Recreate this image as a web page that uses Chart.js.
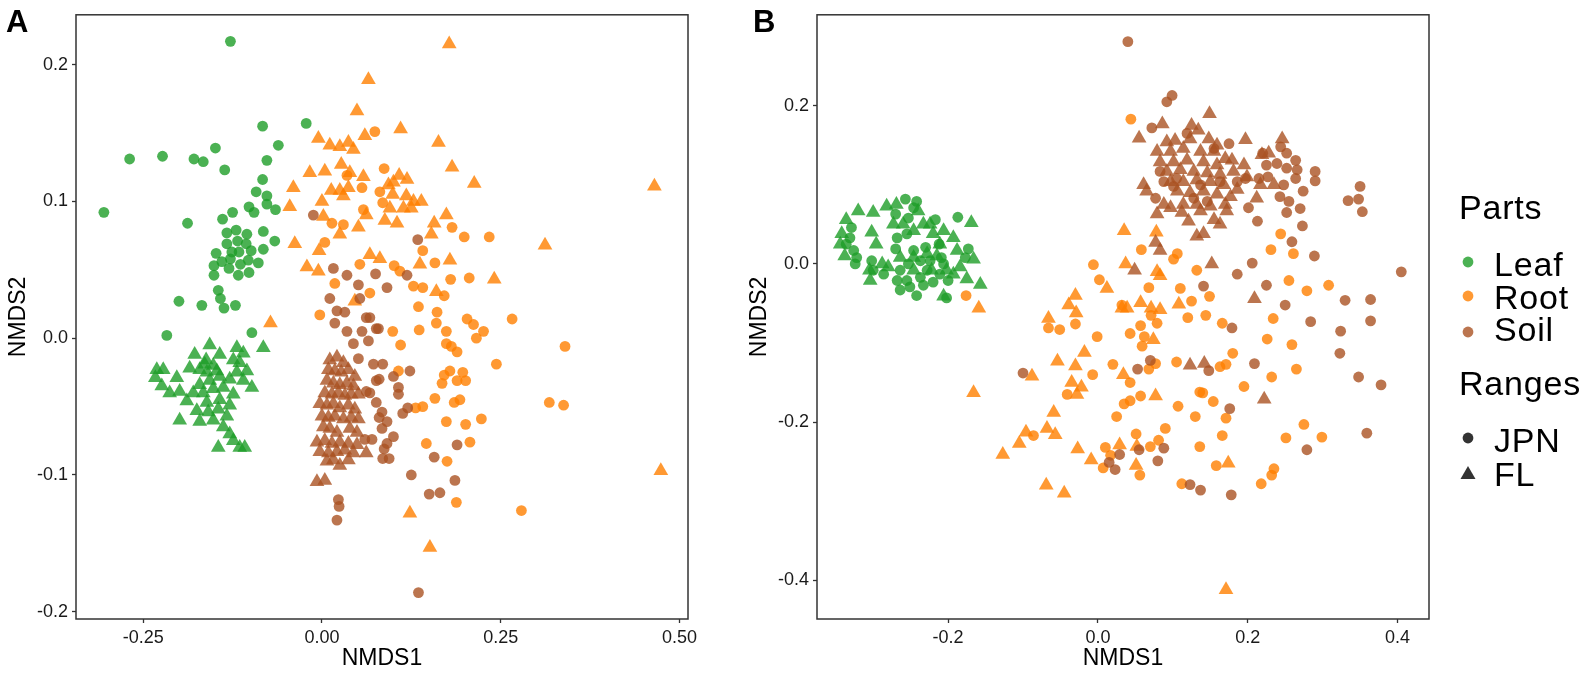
<!DOCTYPE html>
<html>
<head>
<meta charset="utf-8">
<title>NMDS ordination</title>
<script src="https://cdn.jsdelivr.net/npm/chart.js@4.4.1/dist/chart.umd.min.js"></script>
<style>
  html, body { margin: 0; padding: 0; background: #fff; }
  body { width: 1595px; height: 677px; position: relative; overflow: hidden; font-family: "Liberation Sans", Arial, sans-serif; }
  .panel { position: absolute; top: 0; width: 720px; height: 677px; }
  #panelA { left: 0; }
  #panelB { left: 741px; }
  .tag { position: absolute; top: 6px; font-size: 31px; font-weight: bold; line-height: 31px; color: #000; }
  #legend { position: absolute; left: 1440px; top: 0; }
  #legend text { font-family: "Liberation Sans", Arial, sans-serif; font-size: 34px; letter-spacing: 0.8px; fill: #000; }
</style>
</head>
<body>
<div class="panel" id="panelA"><canvas id="chartA" width="720" height="677"></canvas></div>
<div class="panel" id="panelB"><canvas id="chartB" width="720" height="677"></canvas></div>
<div class="tag" style="left:6px">A</div>
<div class="tag" style="left:753px">B</div>

<svg id="legend" width="155" height="677">
  <text x="19" y="219">Parts</text>
  <circle cx="28" cy="262" r="5.4" fill="rgba(30,158,40,0.8)"></circle>
  <text x="54" y="276">Leaf</text>
  <circle cx="28" cy="296" r="5.4" fill="rgba(255,128,0,0.8)"></circle>
  <text x="54" y="309">Root</text>
  <circle cx="28" cy="332" r="5.4" fill="rgba(170,82,35,0.8)"></circle>
  <text x="54" y="341">Soil</text>
  <text x="19" y="395">Ranges</text>
  <circle cx="28" cy="438" r="5.4" fill="rgba(0,0,0,0.8)"></circle>
  <text x="54" y="452">JPN</text>
  <polygon points="20.5,479 35.5,479 28,466" fill="rgba(0,0,0,0.8)"></polygon>
  <text x="54" y="486">FL</text>
</svg>

<script>
// --- Panel A : NMDS1 / NMDS2 scores ---
const aLeafJPN = [[-0.128,0.217],[-0.305,0.092],[-0.269,0.131],[-0.223,0.133],[-0.179,0.131],[-0.166,0.129],[-0.149,0.139],[-0.136,0.123],[-0.083,0.155],[-0.022,0.157],[-0.061,0.141],[-0.077,0.130],[-0.083,0.116],[-0.092,0.107],[-0.077,0.104],[-0.077,0.098],[-0.065,0.094],[-0.102,0.096],[-0.095,0.092],[-0.125,0.092],[-0.139,0.087],[-0.188,0.084],[-0.082,0.078],[-0.066,0.071],[-0.082,0.065],[-0.133,0.077],[-0.120,0.079],[-0.105,0.076],[-0.133,0.069],[-0.118,0.071],[-0.106,0.069],[-0.126,0.063],[-0.116,0.063],[-0.099,0.064],[-0.148,0.062],[-0.140,0.056],[-0.128,0.058],[-0.114,0.054],[-0.103,0.057],[-0.089,0.055],[-0.151,0.053],[-0.130,0.051],[-0.117,0.046],[-0.102,0.048],[-0.151,0.046],[-0.145,0.035],[-0.142,0.029],[-0.137,0.022],[-0.121,0.024],[-0.168,0.024],[-0.200,0.027],[-0.217,0.002],[-0.098,0.004]];
const aLeafFL = [[-0.082,-0.007],[-0.157,-0.005],[-0.178,-0.012],[-0.231,-0.023],[-0.222,-0.023],[-0.233,-0.029],[-0.224,-0.035],[-0.203,-0.029],[-0.213,-0.040],[-0.199,-0.039],[-0.189,-0.046],[-0.185,-0.022],[-0.171,-0.023],[-0.162,-0.016],[-0.152,-0.020],[-0.143,-0.012],[-0.119,-0.007],[-0.110,-0.011],[-0.124,-0.016],[-0.115,-0.018],[-0.105,-0.024],[-0.119,-0.025],[-0.129,-0.030],[-0.110,-0.031],[-0.098,-0.036],[-0.143,-0.028],[-0.157,-0.031],[-0.171,-0.034],[-0.180,-0.040],[-0.166,-0.040],[-0.152,-0.037],[-0.138,-0.036],[-0.124,-0.041],[-0.143,-0.045],[-0.161,-0.047],[-0.175,-0.053],[-0.159,-0.054],[-0.145,-0.052],[-0.129,-0.049],[-0.133,-0.057],[-0.152,-0.060],[-0.171,-0.061],[-0.199,-0.060],[-0.138,-0.065],[-0.129,-0.070],[-0.124,-0.075],[-0.145,-0.080],[-0.115,-0.080],[-0.108,-0.080],[-0.161,-0.025],[-0.147,-0.024],[-0.164,-0.019]];
const aRootJPN = [[0.074,0.151],[0.035,0.119],[0.056,0.110],[0.058,0.094],[0.014,0.084],[0.030,0.083],[0.004,0.070],[0.053,0.054],[0.018,0.040],[0.067,0.033],[-0.003,0.017],[0.087,0.124],[0.081,0.107],[0.085,0.099],[0.182,0.081],[0.199,0.074],[0.234,0.074],[0.141,0.064],[0.158,0.055],[0.101,0.053],[0.109,0.049],[0.180,0.043],[0.206,0.044],[0.128,0.038],[0.141,0.037],[0.171,0.031],[0.135,0.023],[0.161,0.019],[0.160,0.011],[0.203,0.014],[0.212,0.010],[0.226,0.005],[0.266,0.014],[0.174,0.005],[0.136,0.006],[0.099,0.005],[0.216,0.000],[0.340,-0.006],[0.110,-0.005],[0.174,-0.004],[0.181,-0.006],[0.189,-0.010],[0.244,-0.019],[0.107,-0.024],[0.179,-0.024],[0.171,-0.027],[0.197,-0.025],[0.168,-0.033],[0.189,-0.031],[0.201,-0.031],[0.158,-0.044],[0.185,-0.047],[0.193,-0.045],[0.131,-0.051],[0.141,-0.050],[0.318,-0.047],[0.338,-0.049],[0.174,-0.061],[0.201,-0.063],[0.223,-0.059],[0.146,-0.077],[0.207,-0.076],[0.175,-0.090],[0.188,-0.120],[0.279,-0.126]];
const aRootFL = [[0.065,0.189],[0.049,0.166],[-0.005,0.146],[0.011,0.141],[0.025,0.140],[0.037,0.143],[0.044,0.138],[0.060,0.148],[-0.017,0.121],[0.004,0.122],[0.027,0.127],[0.039,0.121],[0.058,0.118],[-0.040,0.110],[-0.045,0.096],[0.000,0.100],[0.013,0.108],[0.025,0.108],[0.037,0.110],[0.030,0.104],[0.062,0.090],[0.002,0.089],[0.025,0.076],[0.051,0.081],[-0.038,0.069],[-0.004,0.064],[0.067,0.061],[-0.021,0.052],[-0.005,0.049],[0.046,0.027],[-0.072,0.011],[0.178,0.215],[0.110,0.153],[0.163,0.143],[0.182,0.125],[0.213,0.113],[0.465,0.111],[0.108,0.119],[0.119,0.116],[0.100,0.114],[0.093,0.112],[0.099,0.105],[0.118,0.104],[0.128,0.100],[0.139,0.100],[0.095,0.095],[0.114,0.095],[0.125,0.095],[0.088,0.086],[0.105,0.084],[0.174,0.090],[0.157,0.084],[0.153,0.076],[0.312,0.068],[0.081,0.058],[0.137,0.054],[0.179,0.057],[0.241,0.043],[0.160,0.034],[0.474,-0.097],[0.123,-0.128],[0.151,-0.153]];
const aSoilJPN = [[-0.012,0.090],[0.016,0.051],[0.035,0.046],[0.051,0.039],[0.011,0.029],[0.053,0.029],[0.021,0.020],[0.032,0.019],[0.062,0.015],[0.018,0.011],[0.035,0.005],[0.056,0.005],[0.076,0.007],[0.134,0.072],[0.075,0.047],[0.119,0.046],[0.091,0.037],[0.067,0.015],[0.079,0.007],[0.044,-0.004],[0.065,-0.002],[0.051,-0.015],[0.072,-0.019],[0.062,-0.039],[0.076,-0.047],[0.060,-0.074],[0.070,-0.074],[0.023,-0.118],[0.024,-0.123],[0.021,-0.133],[0.076,-0.031],[0.085,-0.019],[0.080,-0.030],[0.100,-0.028],[0.107,-0.036],[0.107,-0.041],[0.123,-0.024],[0.067,-0.040],[0.084,-0.054],[0.080,-0.058],[0.091,-0.061],[0.084,-0.066],[0.100,-0.072],[0.091,-0.077],[0.087,-0.081],[0.085,-0.088],[0.094,-0.088],[0.113,-0.055],[0.120,-0.051],[0.189,-0.078],[0.157,-0.087],[0.125,-0.100],[0.186,-0.104],[0.150,-0.114],[0.165,-0.113],[0.135,-0.186]];
const aSoilFL = [[0.011,-0.016],[0.021,-0.014],[0.030,-0.018],[0.009,-0.023],[0.018,-0.024],[0.027,-0.025],[0.037,-0.023],[0.046,-0.028],[0.007,-0.031],[0.016,-0.033],[0.025,-0.034],[0.035,-0.033],[0.044,-0.035],[0.004,-0.040],[0.014,-0.041],[0.023,-0.040],[0.032,-0.042],[0.041,-0.041],[0.051,-0.041],[-0.003,-0.048],[0.007,-0.049],[0.016,-0.048],[0.025,-0.051],[0.037,-0.049],[0.046,-0.052],[0.000,-0.057],[0.009,-0.058],[0.018,-0.057],[0.030,-0.059],[0.041,-0.058],[0.051,-0.059],[0.002,-0.065],[0.011,-0.066],[0.021,-0.069],[0.039,-0.066],[0.049,-0.069],[-0.007,-0.076],[0.004,-0.075],[0.014,-0.077],[0.025,-0.076],[0.037,-0.077],[0.049,-0.078],[-0.003,-0.083],[0.009,-0.084],[0.021,-0.083],[0.032,-0.082],[0.044,-0.084],[0.062,-0.084],[0.007,-0.090],[0.016,-0.089],[0.025,-0.093],[0.037,-0.089],[-0.007,-0.105],[0.004,-0.104]];

// --- Panel B ---
const bLeafJPN = [[-0.257,0.082],[-0.242,0.079],[-0.246,0.071],[-0.217,0.056],[-0.187,0.059],[-0.173,0.019],[-0.177,0.008],[-0.202,-0.043],[-0.242,-0.040],[-0.264,-0.033],[-0.268,-0.021],[-0.251,-0.029],[-0.233,-0.027],[-0.220,-0.023],[-0.264,-0.008],[-0.253,0.000],[-0.237,0.004],[-0.246,0.017],[-0.230,0.021],[-0.212,0.025],[-0.270,0.019],[-0.268,0.033],[-0.255,0.038],[-0.253,0.058],[-0.270,0.063],[-0.286,-0.013],[-0.302,0.004],[-0.300,-0.008],[-0.326,0.017],[-0.331,0.033],[-0.329,0.046],[-0.322,0.008],[-0.324,0.000],[-0.336,0.025],[-0.206,0.000],[-0.211,-0.013],[-0.200,-0.021],[-0.228,-0.008],[-0.237,-0.017],[-0.255,-0.021],[-0.209,0.008],[-0.224,0.004]];
const bLeafFL = [[-0.336,0.056],[-0.320,0.067],[-0.300,0.065],[-0.282,0.073],[-0.269,0.075],[-0.240,0.067],[-0.224,0.050],[-0.206,0.042],[-0.193,0.033],[-0.169,0.052],[-0.166,0.006],[-0.175,-0.019],[-0.157,-0.026],[-0.206,-0.041],[-0.302,0.040],[-0.296,0.025],[-0.305,-0.008],[-0.304,-0.021],[-0.288,0.000],[-0.280,-0.004],[-0.273,0.050],[-0.260,0.050],[-0.246,0.042],[-0.233,0.050],[-0.220,0.038],[-0.211,0.025],[-0.228,0.013],[-0.215,0.010],[-0.246,0.008],[-0.188,0.017],[-0.184,-0.004],[-0.193,-0.013],[-0.202,-0.008],[-0.222,-0.008],[-0.264,0.008],[-0.246,-0.008],[-0.344,0.025],[-0.342,0.038],[-0.338,0.010]];
const bRootJPN = [[-0.176,-0.040],[0.044,0.183],[0.244,0.038],[0.231,0.018],[0.261,0.013],[0.106,0.013],[0.101,0.006],[-0.006,-0.001],[0.058,0.018],[0.132,-0.008],[0.002,-0.020],[0.068,-0.030],[0.110,-0.031],[0.149,-0.041],[0.125,-0.047],[0.255,-0.021],[0.279,-0.034],[0.308,-0.027],[0.234,-0.069],[0.120,-0.068],[0.144,-0.065],[0.166,-0.075],[-0.030,-0.076],[0.071,-0.065],[0.057,-0.078],[0.032,-0.052],[-0.001,-0.092],[0.043,-0.088],[0.062,-0.092],[0.059,-0.104],[0.079,-0.075],[0.226,-0.095],[0.259,-0.102],[0.265,-0.133],[0.232,-0.143],[0.195,-0.155],[0.180,-0.113],[0.171,-0.127],[0.163,-0.130],[0.105,-0.124],[0.068,-0.133],[0.077,-0.126],[0.020,-0.127],[-0.007,-0.140],[0.043,-0.150],[0.057,-0.167],[0.043,-0.173],[0.035,-0.177],[0.025,-0.193],[0.107,-0.180],[0.130,-0.193],[0.154,-0.174],[0.136,-0.162],[0.140,-0.163],[0.171,-0.195],[0.090,-0.208],[0.051,-0.215],[0.081,-0.223],[0.070,-0.231],[0.010,-0.232],[0.017,-0.242],[0.007,-0.258],[0.056,-0.267],[0.136,-0.231],[0.166,-0.217],[0.158,-0.255],[0.112,-0.278],[0.218,-0.278],[0.232,-0.267],[0.235,-0.259],[0.251,-0.220],[0.275,-0.203],[0.299,-0.219],[-0.041,-0.165],[-0.066,-0.081],[-0.051,-0.083],[-0.086,-0.217]];
const bRootFL = [[-0.159,-0.056],[0.035,0.042],[0.078,0.040],[0.037,0.000],[0.079,-0.010],[0.083,-0.015],[0.012,-0.031],[-0.030,-0.040],[-0.039,-0.052],[-0.029,-0.062],[0.057,-0.049],[0.032,-0.056],[0.039,-0.056],[0.071,-0.056],[0.083,-0.058],[0.108,-0.051],[0.074,-0.096],[-0.018,-0.112],[-0.030,-0.129],[0.034,-0.140],[-0.035,-0.150],[-0.022,-0.156],[-0.028,-0.165],[0.077,-0.167],[-0.027,-0.234],[-0.009,-0.248],[0.029,-0.229],[0.052,-0.231],[0.051,-0.255],[0.174,-0.252],[-0.045,-0.290],[0.171,-0.412],[-0.166,-0.163],[-0.088,-0.142],[-0.054,-0.123],[-0.059,-0.188],[-0.096,-0.213],[-0.068,-0.208],[-0.057,-0.216],[-0.105,-0.227],[-0.127,-0.241],[-0.069,-0.280],[-0.066,-0.069]];
const bSoilJPN = [[0.040,0.281],[0.099,0.213],[0.092,0.205],[0.072,0.172],[0.175,0.152],[0.083,0.117],[0.077,0.083],[0.201,0.071],[0.213,0.054],[0.220,0.140],[0.244,0.148],[0.252,0.140],[0.264,0.131],[0.239,0.127],[0.225,0.125],[0.252,0.121],[0.266,0.119],[0.264,0.108],[0.290,0.117],[0.290,0.105],[0.227,0.110],[0.215,0.108],[0.248,0.100],[0.274,0.092],[0.243,0.085],[0.255,0.079],[0.270,0.070],[0.252,0.065],[0.273,0.048],[0.259,0.028],[0.350,0.098],[0.334,0.080],[0.348,0.082],[0.353,0.066],[0.289,0.010],[0.206,0.001],[0.186,-0.013],[0.141,-0.028],[0.225,-0.027],[0.250,-0.052],[0.330,-0.046],[0.364,-0.045],[0.364,-0.072],[0.284,-0.073],[0.324,-0.085],[0.179,-0.081],[0.197,0.108],[0.186,0.104],[0.088,0.104],[0.101,0.098],[0.119,0.165],[0.155,0.146],[0.105,0.108],[0.137,0.100],[0.128,0.083],[0.146,0.079],[0.163,0.104],[0.323,-0.113],[0.348,-0.143],[0.378,-0.153],[0.209,-0.126],[0.176,-0.183],[0.359,-0.214],[0.279,-0.235],[0.053,-0.133],[0.070,-0.122],[0.148,-0.135],[0.029,-0.241],[0.055,-0.235],[0.088,-0.233],[0.080,-0.249],[0.015,-0.251],[0.023,-0.260],[0.123,-0.279],[0.137,-0.286],[0.178,-0.292],[-0.100,-0.138],[0.405,-0.010]];
const bSoilFL = [[0.149,0.190],[0.086,0.177],[0.055,0.159],[0.125,0.175],[0.134,0.169],[0.197,0.157],[0.246,0.158],[0.092,0.154],[0.103,0.156],[0.123,0.158],[0.148,0.158],[0.159,0.150],[0.079,0.142],[0.097,0.142],[0.114,0.146],[0.137,0.142],[0.155,0.142],[0.170,0.133],[0.179,0.131],[0.195,0.125],[0.083,0.129],[0.101,0.129],[0.119,0.131],[0.141,0.129],[0.159,0.125],[0.092,0.117],[0.110,0.119],[0.128,0.117],[0.146,0.115],[0.163,0.113],[0.181,0.117],[0.199,0.110],[0.219,0.138],[0.228,0.140],[0.235,0.100],[0.217,0.100],[0.097,0.104],[0.114,0.104],[0.132,0.106],[0.150,0.104],[0.168,0.100],[0.186,0.094],[0.061,0.100],[0.065,0.092],[0.106,0.092],[0.123,0.090],[0.141,0.092],[0.159,0.088],[0.177,0.085],[0.212,0.083],[0.088,0.075],[0.097,0.071],[0.114,0.075],[0.132,0.075],[0.150,0.073],[0.170,0.075],[0.079,0.063],[0.112,0.065],[0.121,0.054],[0.137,0.067],[0.155,0.056],[0.163,0.050],[0.172,0.067],[0.132,0.035],[0.141,0.038],[0.077,0.027],[0.083,0.017],[0.049,-0.008],[0.152,0.000],[0.209,-0.044],[0.123,-0.128],[0.142,-0.126],[0.222,-0.171]];

// axis ranges and tick positions
const aXRange = [-0.344, 0.512];
const aYRange = [-0.2053, 0.2364];
const aXTicks = [-0.25, 0, 0.25, 0.5];
const aYTicks = [-0.2, -0.1, 0, 0.1, 0.2];
const bXRange = [-0.375, 0.442];
const bYRange = [-0.449, 0.315];
const bXTicks = [-0.2, 0, 0.2, 0.4];
const bYTicks = [-0.4, -0.2, 0, 0.2];

const partColors = { Leaf: 'rgba(30,158,40,0.8)', Root: 'rgba(255,128,0,0.8)', Soil: 'rgba(170,82,35,0.8)' };
const FONT = '"Liberation Sans", Arial, sans-serif';

// closed panel border like ggplot's box
const framePlugin = {
    id: 'frame',
    afterDraw(chart) {
        const { ctx, chartArea: a } = chart;
        ctx.save();
        ctx.strokeStyle = '#333';
        ctx.lineWidth = 1.5;
        ctx.strokeRect(a.left, a.top, a.right - a.left, a.bottom - a.top);
        ctx.restore();
    }
};

function series(part, range, pts) {
    const tri = range === 'FL';
    return {
        label: part + ' ' + range,
        data: pts.map(([x, y]) => ({ x, y })),
        pointStyle: tri ? 'triangle' : 'circle',
        pointRadius: tri ? 8.5 : 5.4,
        pointHoverRadius: tri ? 8.5 : 5.4,
        backgroundColor: partColors[part],
        borderWidth: 0
    };
}

function axis(range, ticks, digits, title, horizontal) {
    return {
        type: 'linear',
        min: range[0],
        max: range[1],
        afterBuildTicks: s => { s.ticks = ticks.map(v => ({ value: v })); },
        afterFit: s => { if (horizontal) s.height = 58; else s.width = 76; },
        ticks: {
            callback: v => Number(v).toFixed(digits),
            color: '#1a1a1a',
            font: { family: FONT, size: 18 },
            padding: 4,
            autoSkip: false,
            maxRotation: 0
        },
        grid: { display: true, drawOnChartArea: false, drawTicks: true, tickLength: 4, tickColor: '#333', tickWidth: 1.3 },
        border: { display: false },
        title: {
            display: true, text: title, color: '#000',
            font: { family: FONT, size: 23 },
            padding: horizontal ? { top: 0, bottom: 5 } : { top: 5, bottom: 0 }
        }
    };
}

function makeChart(id, sets, xr, yr, xt, yt, xDigits) {
    return new Chart(document.getElementById(id), {
        type: 'scatter',
        data: { datasets: sets },
        options: {
            responsive: false,
            animation: false,
            events: [],
            layout: { padding: { top: 8, right: 32, left: 0, bottom: 0 } },
            plugins: { legend: { display: false }, tooltip: { enabled: false } },
            scales: {
                x: axis(xr, xt, xDigits, 'NMDS1', true),
                y: axis(yr, yt, 1, 'NMDS2', false)
            }
        },
        plugins: [framePlugin]
    });
}

makeChart('chartA', [
    series('Soil', 'JPN', aSoilJPN), series('Soil', 'FL', aSoilFL),
    series('Root', 'JPN', aRootJPN), series('Root', 'FL', aRootFL),
    series('Leaf', 'JPN', aLeafJPN), series('Leaf', 'FL', aLeafFL)
], aXRange, aYRange, aXTicks, aYTicks, 2);

makeChart('chartB', [
    series('Soil', 'JPN', bSoilJPN), series('Soil', 'FL', bSoilFL),
    series('Root', 'JPN', bRootJPN), series('Root', 'FL', bRootFL),
    series('Leaf', 'JPN', bLeafJPN), series('Leaf', 'FL', bLeafFL)
], bXRange, bYRange, bXTicks, bYTicks, 1);
</script>
</body>
</html>
